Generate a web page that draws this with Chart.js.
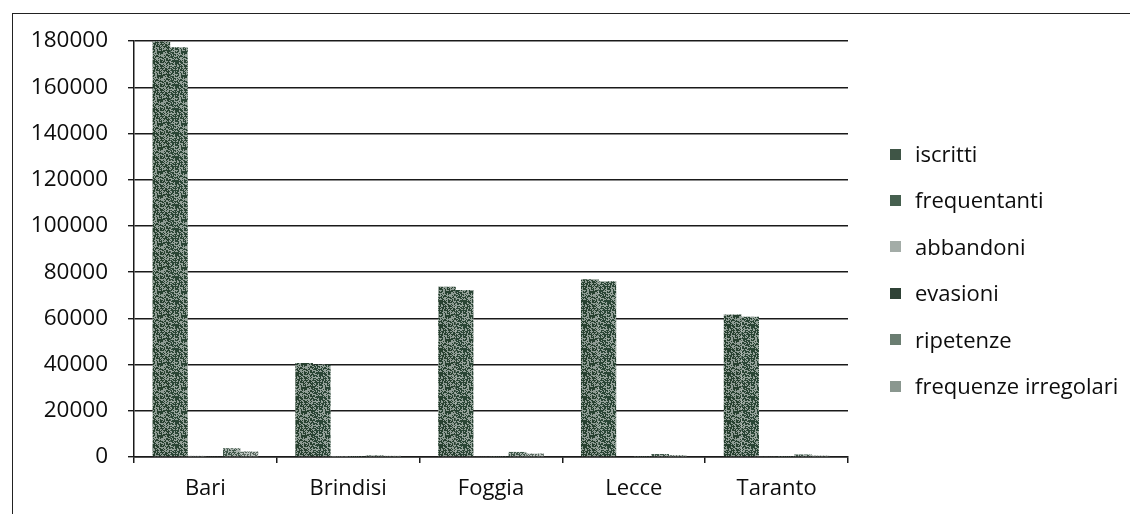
<!DOCTYPE html>
<html>
<head>
<meta charset="utf-8">
<script src="https://cdn.jsdelivr.net/npm/chart.js@4.4.1/dist/chart.umd.min.js"></script>
<style>
  body { margin: 0; background: #fff; overflow: hidden; }
  #frame { position: absolute; left: 12px; top: 13px; width: 1200px; height: 600px;
           border-left: 1.5px solid #222; border-top: 1.5px solid #222; }
  #wrap { position: absolute; left: 0; top: 0; width: 1130px; height: 514px; }
  #legend { position: absolute; left: 890px; top: 130px; font-family: "Open Sans", sans-serif;
            font-size: 22px; color: #0d0d0d; }
  #legend div { height: 46.4px; line-height: 46px; white-space: nowrap; }
  #legend span.box { display: inline-block; width: 11px; height: 11px; margin-right: 14px;
                     vertical-align: middle; position: relative; top: -2px; }
</style>
</head>
<body>
<div id="frame"></div>
<div id="wrap"><canvas id="mychart" width="1130" height="514"></canvas></div>
<div id="legend"></div>
<script>
const getchart = document.querySelector("#mychart");

// dati
const province = ['Bari', 'Brindisi', 'Foggia', 'Lecce', 'Taranto'];
const iscritti = [179800, 40700, 73700, 76900, 61700];
const frequentanti = [177300, 40000, 72300, 76000, 60700];
const abbandoni = [500, 150, 350, 300, 250];
const evasioni = [250, 80, 150, 150, 120];
const ripetenze = [3800, 700, 2200, 1300, 1100];
const frequenzeIrregolari = [2400, 500, 1500, 800, 600];
const yTicks = [0, 20000, 40000, 60000, 80000, 100000, 120000, 140000, 160000, 180000];

// texture puntinata tipo fotocopia (hash fisso, non casuale)
function texture(dark, light, mix) {
  const n = 24;
  const c = document.createElement('canvas');
  c.width = n; c.height = n;
  const g = c.getContext('2d');
  for (let x = 0; x < n; x++) {
    for (let y = 0; y < n; y++) {
      const s = Math.sin(x * 12.9898 + y * 78.233) * 43758.5453;
      const h = s - Math.floor(s);
      g.fillStyle = h < mix ? dark : light;
      g.fillRect(x, y, 1, 1);
    }
  }
  return g.createPattern(c, 'repeat');
}

const series = [
  { label: 'iscritti', data: iscritti, dark: '#27402f', light: '#8f9c94', mix: 0.55, sw: '#3f5546' },
  { label: 'frequentanti', data: frequentanti, dark: '#2a4535', light: '#96a39b', mix: 0.55, sw: '#46604f' },
  { label: 'abbandoni', data: abbandoni, dark: '#6f7d75', light: '#c4cbc7', mix: 0.4, sw: '#a3aca7' },
  { label: 'evasioni', data: evasioni, dark: '#1c3025', light: '#6d7a72', mix: 0.6, sw: '#2f4236' },
  { label: 'ripetenze', data: ripetenze, dark: '#40584a', light: '#a9b3ad', mix: 0.5, sw: '#6a7d71' },
  { label: 'frequenze irregolari', data: frequenzeIrregolari, dark: '#5c6b62', light: '#bcc4bf', mix: 0.4, sw: '#8a978f' }
];

const data = {
  labels: province,
  datasets: series.map(s => ({
    label: s.label,
    data: s.data,
    backgroundColor: texture(s.dark, s.light, s.mix),
    borderWidth: 0,
    barPercentage: 1.0,
    categoryPercentage: 0.74
  }))
};

const config = {
  type: 'bar',
  data: data,
  options: {
    responsive: false,
    animation: false,
    layout: { padding: { left: 12, right: 282, top: 41, bottom: 0 } },
    plugins: {
      legend: { display: false },
      tooltip: { enabled: false }
    },
    scales: {
      x: {
        afterFit: (scale) => { scale.height = 57; },
        grid: { drawOnChartArea: false, drawTicks: true, tickLength: 6, color: '#1a1a1a', lineWidth: 1.5 },
        border: { display: true, color: '#1a1a1a', width: 1.5 },
        ticks: { color: '#0d0d0d', padding: 13, font: { family: 'Open Sans', size: 22 } }
      },
      y: {
        min: 0,
        max: 180000,
        afterFit: (scale) => { scale.width = 122; },
        afterBuildTicks: (scale) => { scale.ticks = yTicks.map(v => ({ value: v })); },
        grid: { color: '#1a1a1a', lineWidth: 1.4, tickLength: 6 },
        border: { display: true, color: '#1a1a1a', width: 1.5 },
        ticks: { color: '#0d0d0d', padding: 20, font: { family: 'Open Sans', size: 22.5 },
                 callback: (v) => String(v) }
      }
    }
  }
};

let chart = new Chart(getchart, config);

// legenda html a destra
const leg = document.querySelector('#legend');
series.forEach(s => {
  const row = document.createElement('div');
  const box = document.createElement('span');
  box.className = 'box';
  box.style.background = s.sw;
  row.appendChild(box);
  row.appendChild(document.createTextNode(s.label));
  leg.appendChild(row);
});
</script>
</body>
</html>
